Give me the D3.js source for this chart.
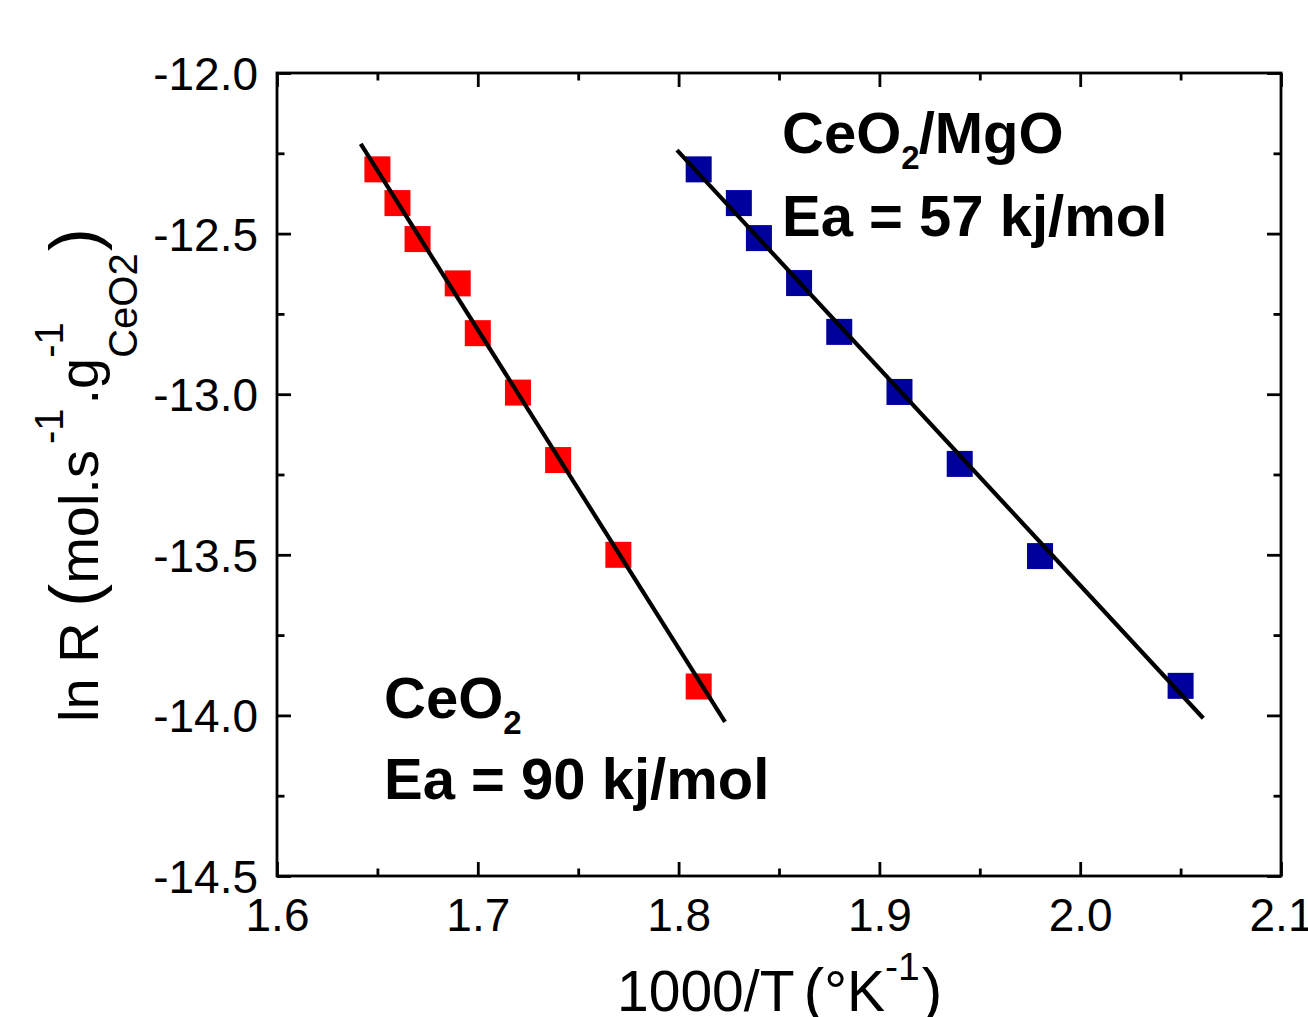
<!DOCTYPE html>
<html><head><meta charset="utf-8">
<script src="https://cdn.jsdelivr.net/npm/d3@7"></script>
<style>
html,body{margin:0;padding:0;background:#fff;}
svg{display:block;}
text{font-family:"Liberation Sans",Arial,Helvetica,sans-serif;fill:#000;}
</style></head>
<body>
<script>
// ---- data ----
const ceo2X = [1.65, 1.66, 1.67, 1.69, 1.70, 1.72, 1.74, 1.77, 1.81];
const ceo2Y = [-12.30, -12.405, -12.517, -12.655, -12.81, -12.995, -13.205, -13.50, -13.91];
const mgoX  = [1.81, 1.83, 1.84, 1.86, 1.88, 1.91, 1.94, 1.98, 2.05];
const mgoY  = [-12.30, -12.405, -12.514, -12.654, -12.806, -12.993, -13.217, -13.504, -13.908];
// linear fit segments (endpoints)
const ceo2FitX = [1.6417, 1.8231];
const ceo2FitY = [-12.221, -14.020];
const mgoFitX  = [1.7992, 2.0613];
const mgoFitY  = [-12.240, -14.009];
const xTicks = [1.6, 1.7, 1.8, 1.9, 2.0, 2.1];
const xMinor = [1.65, 1.75, 1.85, 1.95, 2.05];
const yTicks = [-12.0, -12.5, -13.0, -13.5, -14.0, -14.5];
const yMinor = [-12.25, -12.75, -13.25, -13.75, -14.25];

const W = 1308, H = 1017;
const m = {l:277, r:1281, t:73, b:876};
const svg = d3.select("body").append("svg").attr("width", W).attr("height", H);

const x = d3.scaleLinear().domain([1.6, 2.1]).range([m.l, m.r]);
const y = d3.scaleLinear().domain([-14.5, -12.0]).range([m.b, m.t]);

const axisStroke = 2.8;
const fmt = v => v.toFixed(1);
const major = 14, minor = 7.5;

function styleAxis(g){
  g.select(".domain").remove();
  g.selectAll("line").attr("stroke","#000").attr("stroke-width",axisStroke);
}
// bottom
svg.append("g").attr("transform",`translate(0,${m.b})`)
  .call(d3.axisBottom(x).tickValues(xTicks).tickSize(-major).tickFormat(fmt).tickPadding(26))
  .call(styleAxis)
  .call(g=>g.selectAll("text").attr("font-size",46).attr("dy",null).attr("y",55).style("font-family","'Liberation Sans',Arial,sans-serif"));
svg.append("g").attr("transform",`translate(0,${m.b})`)
  .call(d3.axisBottom(x).tickValues(xMinor).tickSize(-minor).tickFormat(""))
  .call(styleAxis);
// top
svg.append("g").attr("transform",`translate(0,${m.t})`)
  .call(d3.axisTop(x).tickValues(xTicks).tickSize(-major).tickFormat(""))
  .call(styleAxis);
svg.append("g").attr("transform",`translate(0,${m.t})`)
  .call(d3.axisTop(x).tickValues(xMinor).tickSize(-minor).tickFormat(""))
  .call(styleAxis);
// left
svg.append("g").attr("transform",`translate(${m.l},0)`)
  .call(d3.axisLeft(y).tickValues(yTicks).tickSize(-major).tickFormat(fmt))
  .call(styleAxis)
  .call(g=>g.selectAll("text").attr("font-size",46).attr("x",-19).attr("dy","0.36em").style("font-family","'Liberation Sans',Arial,sans-serif"));
svg.append("g").attr("transform",`translate(${m.l},0)`)
  .call(d3.axisLeft(y).tickValues(yMinor).tickSize(-minor).tickFormat(""))
  .call(styleAxis);
// right
svg.append("g").attr("transform",`translate(${m.r},0)`)
  .call(d3.axisRight(y).tickValues(yTicks).tickSize(-major).tickFormat(""))
  .call(styleAxis);
svg.append("g").attr("transform",`translate(${m.r},0)`)
  .call(d3.axisRight(y).tickValues(yMinor).tickSize(-minor).tickFormat(""))
  .call(styleAxis);

// frame
svg.append("rect").attr("x",m.l).attr("y",m.t).attr("width",m.r-m.l).attr("height",m.b-m.t)
  .attr("fill","none").attr("stroke","#000").attr("stroke-width",axisStroke);

// markers
const sq = 26;
function drawSquares(xs, ys, color){
  svg.append("g").selectAll("rect").data(xs.map((v,i)=>[v, ys[i]])).join("rect")
    .attr("x",d=>x(d[0])-sq/2).attr("y",d=>y(d[1])-sq/2)
    .attr("width",sq).attr("height",sq).attr("fill",color);
}
drawSquares(ceo2X, ceo2Y, "#ff0000");
drawSquares(mgoX, mgoY, "#00009c");

// fit lines
const line = d3.line().x(d=>x(d[0])).y(d=>y(d[1]));
function drawFit(xs, ys){
  svg.append("path").datum(xs.map((v,i)=>[v, ys[i]])).attr("d",line)
    .attr("fill","none").attr("stroke","#000").attr("stroke-width",4.2);
}
drawFit(ceo2FitX, ceo2FitY);
drawFit(mgoFitX, mgoFitY);

// annotations
function label(xp, yp, parts){
  const t = svg.append("text").attr("x",xp).attr("y",yp).attr("font-weight","bold").attr("font-size",58);
  parts.forEach(p=>{
    const s = t.append("tspan").text(p.t);
    if(p.fs) s.attr("font-size",p.fs);
    if(p.dy) s.attr("dy",p.dy);
    if(p.dx) s.attr("dx",p.dx);
  });
}
label(782, 153, [{t:"CeO"},{t:"2",fs:33,dy:16},{t:"/MgO",dy:-16,dx:-1}]);
label(782, 236, [{t:"Ea = 57 kj/mol"}]);
label(384, 718, [{t:"CeO"},{t:"2",fs:33,dy:16}]);
label(384, 799, [{t:"Ea = 90 kj/mol"}]);

// x title
const xt = svg.append("text").attr("x",617).attr("y",1011).attr("font-size",57);
xt.append("tspan").text("1000/T");
xt.append("tspan").attr("dx",9).attr("font-size",62).text("(");
xt.append("tspan").text("°K");
xt.append("tspan").attr("font-size",39).attr("dy",-31).text("-1");
xt.append("tspan").attr("font-size",62).attr("dy",31).attr("dx",2).text(")");

// y title
const yt = svg.append("text").attr("transform","translate(98,722) rotate(-90)").attr("font-size",56);
yt.append("tspan").text("ln R ");
yt.append("tspan").attr("font-size",69).text("(");
yt.append("tspan").text("mol.s");
yt.append("tspan").attr("font-size",40).attr("dy",-35).attr("dx",6).text("-1");
yt.append("tspan").attr("dy",35).attr("dx",4).text(".g");
const sup2 = yt.append("tspan").attr("font-size",40).attr("dy",-35).text("-1");
const supW = sup2.node().getComputedTextLength();
yt.append("tspan").attr("font-size",40).attr("dy",74).attr("dx",-supW).text("CeO2");
yt.append("tspan").attr("font-size",69).attr("dy",-39).attr("dx",2).text(")");
</script>
</body></html>
